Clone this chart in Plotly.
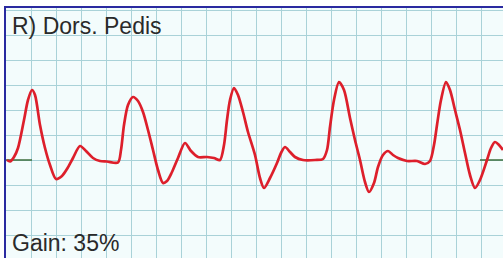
import plotly.graph_objects as go

# time in grid divisions, amplitude in grid divisions (baseline = 0)
t = [0.04, 0.16, 0.32, 0.48, 0.72, 0.88, 1.04, 1.16, 1.36, 1.56, 1.76, 2.00, 2.24, 2.44, 2.68, 2.96,
     3.20, 3.48, 3.76, 4.04, 4.48, 4.60, 4.72, 4.88, 5.08, 5.28, 5.48, 5.68, 5.88, 6.08, 6.28, 6.44,
     6.64, 6.88, 7.16, 7.40, 7.68, 8.04, 8.32, 8.56, 8.72, 8.84, 8.96, 9.12, 9.28, 9.48, 9.68, 9.96,
     10.16, 10.32, 10.56, 10.84, 11.00, 11.16, 11.36, 11.56, 11.88, 12.36, 12.68, 12.84, 12.96, 13.12,
     13.32, 13.52, 13.76, 13.96, 14.16, 14.36, 14.52, 14.72, 14.88, 15.08, 15.28, 15.48, 15.68, 16.04,
     16.44, 16.76, 16.96, 17.12, 17.24, 17.40, 17.60, 17.76, 17.96, 18.16, 18.36, 18.56, 18.76, 18.96,
     19.24, 19.40, 19.56, 19.72, 19.88]
amp = [0.00, -0.06, 0.12, 0.48, 1.60, 2.40, 2.80, 2.60, 1.40, 0.48, -0.20, -0.76, -0.64, -0.36, 0.08, 0.56,
       0.36, 0.08, -0.04, -0.06, -0.10, 0.40, 1.40, 2.20, 2.52, 2.36, 1.92, 1.20, 0.40, -0.40, -0.92, -0.84,
       -0.48, 0.08, 0.68, 0.36, 0.12, 0.12, 0.08, 0.00, 0.60, 1.60, 2.40, 2.88, 2.60, 1.92, 1.12, 0.20,
       -0.72, -1.12, -0.72, -0.12, 0.28, 0.52, 0.32, 0.12, 0.00, 0.00, 0.04, 0.40, 1.32, 2.40,
       3.12, 2.80, 1.68, 0.80, 0.00, -0.88, -1.28, -0.92, -0.28, 0.20, 0.36, 0.20, 0.08, -0.04,
       -0.04, -0.16, -0.04, 0.60, 1.40, 2.40, 3.12, 2.80, 2.00, 1.20, 0.28, -0.60, -1.12, -0.80,
       0.00, 0.48, 0.72, 0.60, 0.40]

base_t = [0.0, 1.04, None, 18.96, 19.9]
base_a = [0, 0, None, 0, 0]

title_text = "R) Dors. Pedis"
gain_text = "Gain: 35%"

fig = go.Figure()
fig.add_trace(go.Scatter(x=base_t, y=base_a, mode="lines",
                         line=dict(color="#3c6e3c", width=1.5), hoverinfo="skip"))
fig.add_trace(go.Scatter(x=t, y=amp, mode="lines",
                         line=dict(color="#dd1f2b", width=2.7, shape="spline", smoothing=0.8),
                         hoverinfo="skip"))

grid = "#a9d2d8"
fig.update_layout(
    width=503, height=258,
    margin=dict(l=6, r=0, t=8, b=0),
    paper_bgcolor="#ffffff",
    plot_bgcolor="#f3fcfc",
    showlegend=False,
    xaxis=dict(range=[0, 19.88], dtick=1, tick0=0, showgrid=True, gridcolor=grid, gridwidth=1,
               showticklabels=False, ticks="", zeroline=False, side="top",
               showline=True, linecolor="#2a2aa0", linewidth=2, fixedrange=True),
    yaxis=dict(range=[-3.92, 6.08], dtick=1, tick0=0, showgrid=True, gridcolor=grid, gridwidth=1,
               showticklabels=False, ticks="", zeroline=False,
               showline=True, linecolor="#2a2aa0", linewidth=2, fixedrange=True),
    annotations=[
        dict(text=title_text, xref="paper", yref="paper", x=0.008, y=0.928,
             xanchor="left", yanchor="middle", showarrow=False,
             font=dict(family="Liberation Sans, Arial", size=23, color="#2a2a2a")),
        dict(text=gain_text, xref="paper", yref="paper", x=0.008, y=0.06,
             xanchor="left", yanchor="middle", showarrow=False,
             font=dict(family="Liberation Sans, Arial", size=23, color="#2a2a2a")),
    ],
)

fig.write_html("out.html", config={"displayModeBar": False},
               post_script="document.body.style.margin='0';document.body.style.overflow='hidden';")
